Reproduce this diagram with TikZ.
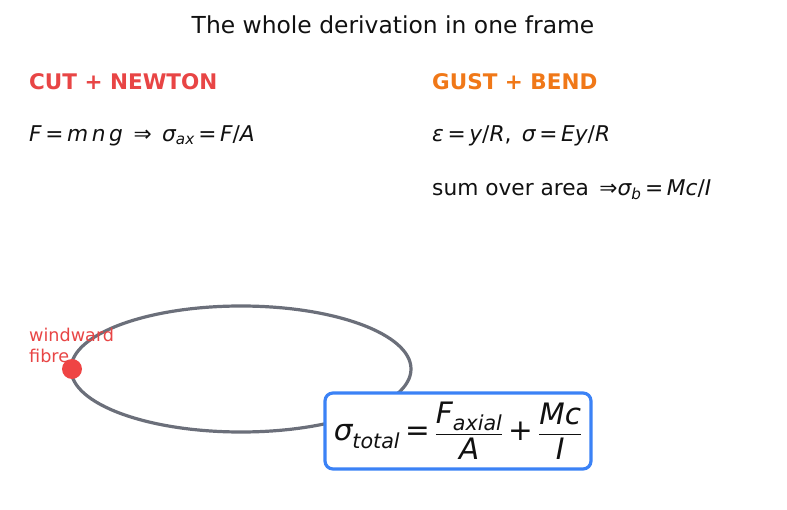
\documentclass[tikz,border=0pt]{standalone}
\usepackage{fontspec}
\setmainfont{DejaVu Sans}
\usepackage{amsmath}
\newcommand{\mi}[1]{\text{\itshape #1}}
\definecolor{cutred}{HTML}{E84545}
\definecolor{gustor}{HTML}{F07818}
\definecolor{ellgray}{HTML}{6B6F7A}
\definecolor{dotred}{HTML}{EF4444}
\definecolor{boxblue}{HTML}{3B82F6}
\definecolor{txt}{HTML}{111111}
\begin{document}
\begin{tikzpicture}[x=1pt,y=-1pt,
  heading/.style={anchor=west,inner sep=0pt,font=\fontsize{21.5}{25}\selectfont\bfseries},
  eqtext/.style={anchor=west,inner sep=0pt,text=txt,font=\fontsize{21.7}{25}\selectfont},
  lbl/.style={anchor=west,inner sep=0pt,text=cutred,font=\fontsize{17.6}{21}\selectfont,align=left}]
\useasboundingbox (0,0) rectangle (787,510);
\node[inner sep=0pt,text=txt,font=\fontsize{23.4}{28}\selectfont] (title) at (393,25) {The whole derivation in one frame};
\node[heading,text=cutred] (cut) at (29,82) {CUT + NEWTON};
\node[heading,text=gustor] (gust) at (432,82) {GUST + BEND};
\node[eqtext] (eq1) at (29,136) {\mi{F}\,=\,\mi{m}\,\mi{n}\,\mi{g}\, ⇒\, \mi{σ}$_{\mi{ax}}$\,=\,\mi{F}/\mi{A}};
\node[eqtext] (eq2) at (432,136) {\mi{ε}\,=\,\mi{y}/\mi{R},\, \mi{σ}\,=\,\mi{Ey}/\mi{R}};
\node[eqtext] (eq3) at (432,190) {sum over area \,⇒\mi{σ}$_{\mi{b}}$\,=\,\mi{Mc}/\mi{I}};
\draw[ellgray,line width=3.2pt] (241,369) ellipse [x radius=170, y radius=63];
\node[circle,fill=dotred,inner sep=0pt,minimum size=20pt] (dot) at (72,369) {};
\node[lbl] (wind) at (29,345) {windward\\fibre};
\node[draw=boxblue,line width=3.2pt,rounded corners=8pt,fill=white,minimum width=266pt,minimum height=76pt,inner sep=0pt,text=txt,font=\fontsize{29.5}{34}\selectfont] (box) at (458,431)
  {\mi{σ}$_{\mi{total}}$\,=\,$\dfrac{\mi{F}_{\mi{axial}}}{\mi{A}}$\,+\,$\dfrac{\mi{Mc}}{\mi{I}}$};
\end{tikzpicture}
\end{document}
